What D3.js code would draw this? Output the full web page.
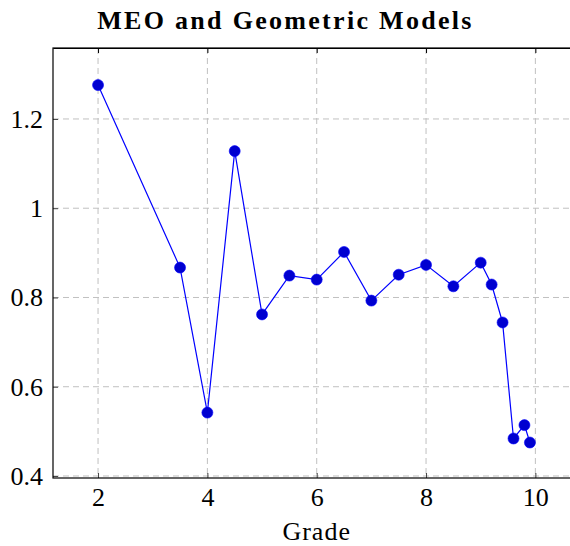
<!DOCTYPE html>
<html>
<head>
<meta charset="utf-8">
<script src="https://cdn.jsdelivr.net/npm/d3@7"></script>
<style>
  body { margin: 0; background: #fff; }
  text { font-family: "Liberation Serif", "DejaVu Serif", serif; }
</style>
</head>
<body>
<div id="chart"></div>
<script>
// data
var grades = [2, 3.5, 4, 4.5, 5, 5.5, 6, 6.5, 7, 7.5, 8, 8.5, 9, 9.2, 9.4, 9.6, 9.8, 9.9];
var scores = [1.276, 0.867, 0.542, 1.128, 0.762, 0.849, 0.840, 0.902, 0.793, 0.851, 0.873, 0.825, 0.878, 0.829, 0.744, 0.484, 0.514, 0.475];
var xTicks = [2, 4, 6, 8, 10];
var yTicks = [0.4, 0.6, 0.8, 1, 1.2];

var data = grades.map(function(g, i) { return {grade: g, score: scores[i]}; });

var margin = {top: 48, right: -2, bottom: 68, left: 53},
    width = 570 - margin.left - margin.right,
    height = 546 - margin.top - margin.bottom;

var svg = d3.select("#chart")
    .append("svg")
    .attr("width", 570)
    .attr("height", 546)
    .append("g")
    .attr("transform", "translate(" + margin.left + "," + margin.top + ")");

var x = d3.scaleLinear().domain([1.176, 10.67]).range([0, width]);
var y = d3.scaleLinear().domain([0.3955, 1.359]).range([height, 0]);

// grid
svg.selectAll(".gx").data(xTicks).enter().append("line")
    .attr("x1", function(d) { return x(d); }).attr("x2", function(d) { return x(d); })
    .attr("y1", 0).attr("y2", height)
    .style("stroke", "#c0c0c0").style("stroke-dasharray", "6,4").style("stroke-width", 1);
svg.selectAll(".gy").data(yTicks).enter().append("line")
    .attr("y1", function(d) { return y(d); }).attr("y2", function(d) { return y(d); })
    .attr("x1", 0).attr("x2", width)
    .style("stroke", "#c0c0c0").style("stroke-dasharray", "6,4").style("stroke-width", 1);

// axes (ticks inside, like pgfplots)
var xAxis = d3.axisBottom(x).tickValues(xTicks).tickSizeInner(-5).tickSizeOuter(0).tickPadding(10)
    .tickFormat(d3.format("d"));
var yAxis = d3.axisLeft(y).tickValues(yTicks).tickSizeInner(-5).tickSizeOuter(0).tickPadding(10)
    .tickFormat(function(d) { return d === 1 ? "1" : d3.format(".1f")(d); });

var gx = svg.append("g").attr("transform", "translate(0," + height + ")").call(xAxis);
var gy = svg.append("g").call(yAxis);
svg.append("g").call(d3.axisTop(x).tickValues(xTicks).tickSizeInner(-5).tickSizeOuter(0).tickFormat(""));
[gx, gy].forEach(function(g) {
    g.selectAll("text").style("font-size", "26px").style("fill", "#000");
    g.select(".domain").remove();
    g.selectAll(".tick line").style("stroke", "#444");
});

svg.append("rect")
    .attr("x", 0).attr("y", 0).attr("width", width).attr("height", height)
    .style("fill", "none").style("stroke", "#000").style("stroke-width", 1.2);

// line and markers
svg.append("path")
    .datum(data)
    .attr("d", d3.line()
        .x(function(d) { return x(d.grade); })
        .y(function(d) { return y(d.score); }))
    .style("fill", "none").style("stroke", "#0000ff").style("stroke-width", 1.2);

svg.selectAll(".dot").data(data).enter().append("circle")
    .attr("cx", function(d) { return x(d.grade); })
    .attr("cy", function(d) { return y(d.score); })
    .attr("r", 5.5)
    .style("fill", "#0000d0").style("stroke", "#0000ff").style("stroke-width", 0.6);

// labels
svg.append("text")
    .attr("x", 285.5 - margin.left).attr("y", -19)
    .attr("text-anchor", "middle")
    .style("font-size", "26px").style("font-weight", "bold").style("letter-spacing", "2.3px")
    .text("MEO and Geometric Models");

svg.append("text")
    .attr("x", x(6)).attr("y", height + 62)
    .attr("text-anchor", "middle")
    .style("font-size", "26px").style("letter-spacing", "1px")
    .text("Grade");
</script>
</body>
</html>
